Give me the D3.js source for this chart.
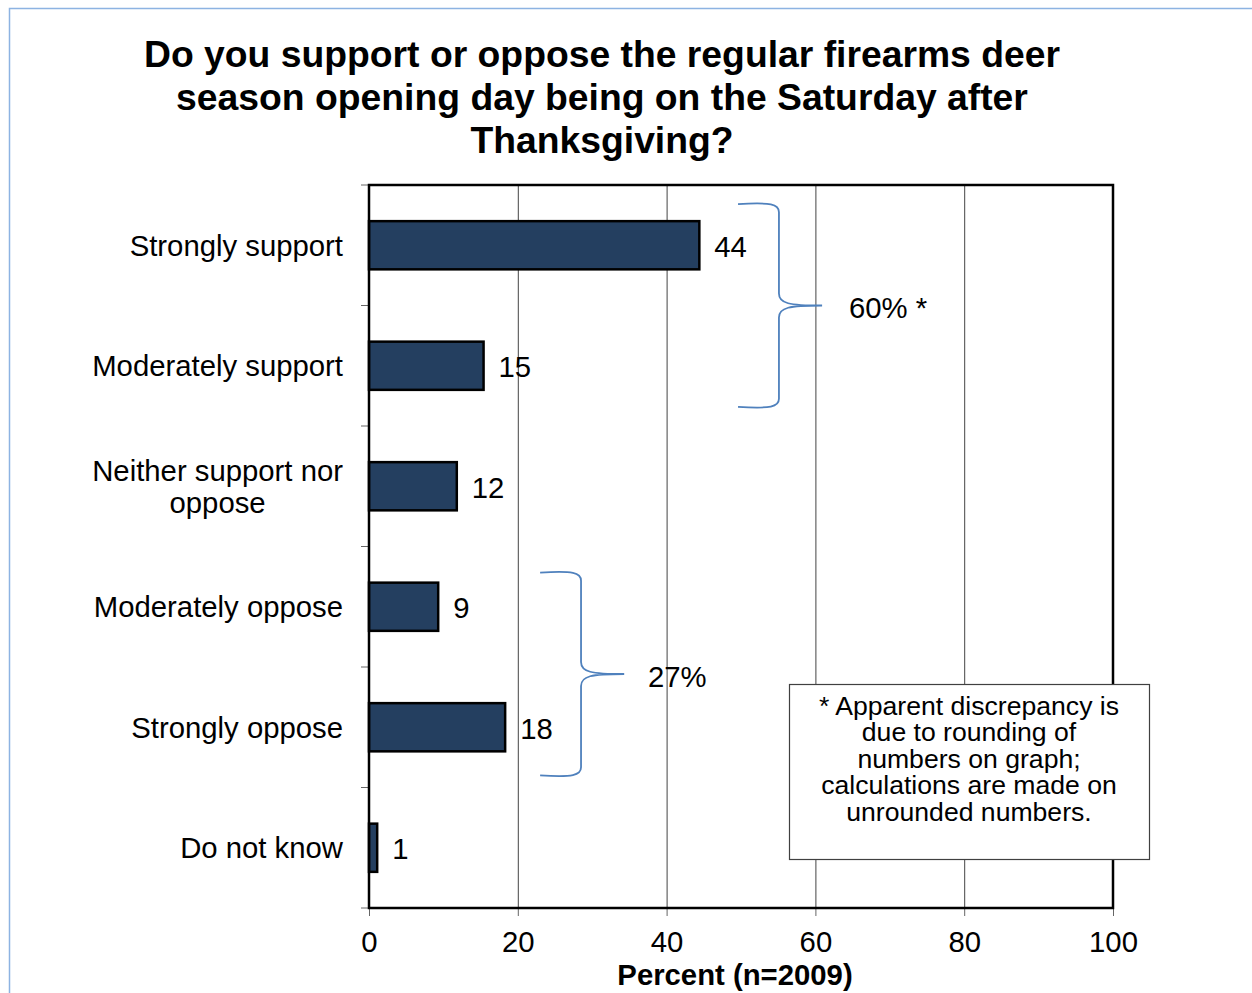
<!DOCTYPE html>
<html><head><meta charset="utf-8">
<script src="https://cdn.jsdelivr.net/npm/d3@7"></script>
<style>body{margin:0;background:#fff}svg{display:block;font-family:Arial,"Liberation Sans",sans-serif}</style>
</head><body>
<svg id="c" width="1252" height="993"></svg>
<script>
const titleLines = ["Do you support or oppose the regular firearms deer","season opening day being on the Saturday after","Thanksgiving?"];
const categories = ["Strongly support","Moderately support","Neither support nor|oppose","Moderately oppose","Strongly oppose","Do not know"];
const values = [44.4, 15.4, 11.8, 9.3, 18.3, 1.1];
const valueLabels = ["44","15","12","9","18","1"];
const xTicks = [0,20,40,60,80,100];
const xTitle = "Percent (n=2009)";
const groups = [
  {label:"60% *", from:0, to:1, x0:49.6, x1:55.1, x2:60.9, lx:64.5},
  {label:"27%", from:3, to:4, x0:23.0, x1:28.5, x2:34.3, lx:37.5}
];
const noteLines = ["* Apparent discrepancy is","due to rounding of","numbers on graph;","calculations are made on","unrounded numbers."];

const svg = d3.select("#c");
const M = {l:369, t:185, r:1113, b:908};
const FS = 29.3;
const x = d3.scaleLinear().domain([0,100]).range([M.l, M.r]);
const y = d3.scaleBand().domain(d3.range(categories.length)).range([M.t, M.b]).paddingInner(0.6).paddingOuter(0.3);
const band = d3.scaleBand().domain(d3.range(categories.length)).range([M.t, M.b]);

// outer border
svg.append("path").attr("d", `M9.5,993 V8.5 H1252`).attr("fill","none").attr("stroke","#8DB3E2").attr("stroke-width",1.5);

// title
svg.append("text").attr("text-anchor","middle").attr("font-weight","bold").attr("font-size",37.3).attr("fill","#000")
  .selectAll("tspan").data(titleLines).join("tspan").attr("x",602).attr("y",(d,i)=>67+i*43).text(d=>d);

// gridlines
svg.append("g").selectAll("line").data(xTicks.filter(t=>t>0 && t<100)).join("line")
  .attr("x1",d=>x(d)+0.5).attr("x2",d=>x(d)+0.5).attr("y1",M.t).attr("y2",M.b).attr("stroke","#444").attr("stroke-width",1);

// x axis
const xa = svg.append("g").attr("transform",`translate(0,${M.b})`)
  .call(d3.axisBottom(x).tickValues(xTicks).tickSize(8).tickPadding(15).tickFormat(d3.format("d")));
xa.select(".domain").remove();
xa.selectAll(".tick line").attr("stroke","#666");
xa.selectAll("text").attr("font-size",FS).attr("fill","#000").attr("font-family","Arial, Liberation Sans, sans-serif");

// y ticks at band boundaries
const bounds = d3.range(categories.length+1).map(i=>M.t + i*band.step());
svg.append("g").selectAll("line").data(bounds).join("line")
  .attr("x1",M.l-8).attr("x2",M.l).attr("y1",d=>d).attr("y2",d=>d).attr("stroke","#666");

// bars
svg.append("g").selectAll("rect").data(values).join("rect")
  .attr("x",x(0)).attr("y",(d,i)=>y(i)).attr("width",d=>x(d)-x(0)).attr("height",y.bandwidth())
  .attr("fill","#243F60").attr("stroke","#000").attr("stroke-width",2.5);

// frame
svg.append("rect").attr("x",M.l).attr("y",M.t).attr("width",M.r-M.l).attr("height",M.b-M.t)
  .attr("fill","none").attr("stroke","#000").attr("stroke-width",2.5);

// value labels
svg.append("g").selectAll("text").data(values).join("text")
  .attr("x",d=>x(d)+15).attr("y",(d,i)=>y(i)+y.bandwidth()/2+1).attr("dy","0.36em")
  .attr("font-size",FS).text((d,i)=>valueLabels[i]);

// category labels
const catG = svg.append("g");
categories.forEach((c,i)=>{
  const lines = c.split("|");
  const cy = y(i)+y.bandwidth()/2;
  const t = catG.append("text").attr("font-size",FS).attr("fill","#000");
  const sp = t.selectAll("tspan").data(lines).join("tspan").text(d=>d)
    .attr("y",(d,j)=>cy + (j-(lines.length-1)/2)*32).attr("dy","0.36em");
  if(lines.length===1){ t.attr("text-anchor","end"); sp.attr("x",343); }
  else {
    let w=0; sp.each(function(){w=Math.max(w,this.getComputedTextLength());});
    t.attr("text-anchor","middle"); sp.attr("x",343-w/2);
  }
});

// braces
groups.forEach((g,gi)=>{
  const nudge = gi===0 ? 0 : 7;
  const top = y(g.from) - 17 + nudge, bot = y(g.to)+y.bandwidth()+17 + nudge;
  const X0=x(g.x0), X1=x(g.x1), X2=x(g.x2);
  const yt = top+ (bot-top)/2;
  const p = `M${X0},${top} C${X1-8},${top-2} ${X1},${top} ${X1},${top+8} V${yt-12} C${X1},${yt-2} ${X1+10},${yt} ${X2},${yt}`+
            ` C${X1+10},${yt} ${X1},${yt+2} ${X1},${yt+12} V${bot-8} C${X1},${bot} ${X1-8},${bot+2} ${X0},${bot}`;
  svg.append("path").attr("d",p).attr("fill","none").attr("stroke","#4F81BD").attr("stroke-width",1.8);
  svg.append("text").attr("x",x(g.lx)).attr("y",yt+2).attr("dy","0.36em").attr("font-size",FS).text(g.label);
});

// note box
svg.append("rect").attr("x",789.5).attr("y",684.5).attr("width",360).attr("height",175)
  .attr("fill","#fff").attr("stroke","#404040").attr("stroke-width",1.2);
svg.append("text").attr("text-anchor","middle").attr("font-size",26.6)
  .selectAll("tspan").data(noteLines).join("tspan").attr("x",969).attr("y",(d,i)=>715+i*26.4).text(d=>d);

// x title
svg.append("text").attr("x",735).attr("y",985).attr("text-anchor","middle").attr("font-weight","bold").attr("font-size",FS).text(xTitle);
</script>
</body></html>
